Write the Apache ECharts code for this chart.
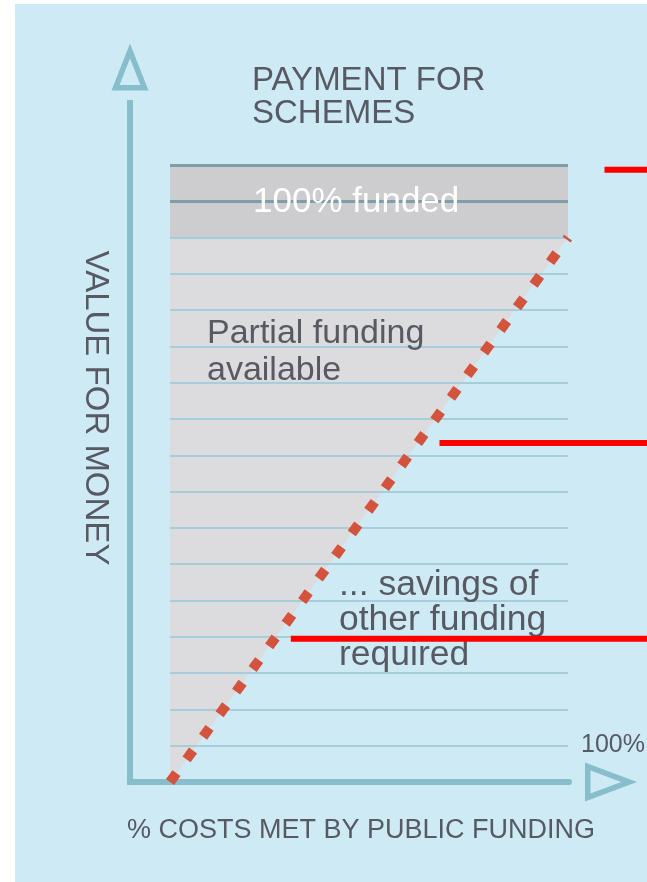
<!DOCTYPE html>
<html>
<head>
<meta charset="utf-8">
<script src="https://cdn.jsdelivr.net/npm/echarts@6/dist/echarts.min.js"></script>
<style>
  html, body { margin: 0; padding: 0; width: 647px; height: 882px; background: #fff; overflow: hidden; }
  #bg { position: absolute; left: 15px; top: 4px; width: 632px; height: 878px; background: #cdeaf5; }
  #chart { position: absolute; left: 0; top: 0; width: 647px; height: 882px; }
</style>
</head>
<body>
<div id="bg"></div>
<div id="chart"></div>
<script>
// x: % of costs met by public funding, y: value-for-money level
const costShare = [0, 100];
const fundingLine = [0, 15];
const fundedBand = [15, 17];
const fundedLines = [16, 17];

// red marker strokes at the right
const markY = [16.87, 9.34, 3.95];
const markFromX = [109.3, 67.8, 30.4];
const markToX = 120;

const titleText = 'PAYMENT FOR\nSCHEMES';
const yName = 'VALUE FOR MONEY';
const xName = '% COSTS MET BY PUBLIC FUNDING';
const notes = ['100% funded', 'Partial funding\navailable', '... savings of\nother funding\nrequired'];
const endLabel = '100%';

const FONT = '"Liberation Sans", Arial, sans-serif';
const TEXT = '#575a63';
const AXIS = '#88bdcc';

const chart = echarts.init(document.getElementById('chart'));

const diag = costShare.map((x, i) => [x, fundingLine[i]]);

// hollow arrow heads for the axis ends (pointing up before rotation)
const arrowY = 'path://M18.5,0L37,47L0,47Z M18.5,15L8.1,41.5L28.9,41.5Z';
const arrowX = 'path://M19.5,0L39,52L0,52Z M19.5,15.7L7.9,46.5L31.1,46.5Z';

const hidden = { show: false };

const option = {
  animation: false,
  title: {
    text: titleText,
    left: 252,
    top: 64,
    padding: 0,
    textStyle: { fontSize: 33, lineHeight: 33, fontWeight: 'normal', color: TEXT, fontFamily: FONT }
  },
  grid: [
    { left: 170, right: 79, top: 165, bottom: 100 },
    { left: 130, right: 78, top: 103, bottom: 100 },
    { left: 170, right: 0, top: 165, bottom: 100 }
  ],
  xAxis: [
    { gridIndex: 0, type: 'value', min: 0, max: 100,
      axisLine: hidden, axisTick: hidden, axisLabel: hidden, splitLine: hidden },
    { gridIndex: 1, type: 'value', min: 0, max: 1, z: 4,
      axisLine: { show: true, symbol: ['none', arrowX], symbolSize: [39, 52], symbolOffset: [0, 42],
        lineStyle: { color: AXIS, width: 6 } },
      axisTick: hidden, axisLabel: hidden, splitLine: hidden },
    { gridIndex: 2, type: 'value', min: 0, max: markToX,
      axisLine: hidden, axisTick: hidden, axisLabel: hidden, splitLine: hidden }
  ],
  yAxis: [
    { gridIndex: 0, type: 'value', min: 0, max: 17, interval: 1, z: 3,
      axisLine: hidden, axisTick: hidden, axisLabel: hidden,
      splitLine: { show: true, lineStyle: { color: '#a6cdd9', width: 2 } } },
    { gridIndex: 1, type: 'value', min: 0, max: 1, z: 4,
      axisLine: { show: true, symbol: ['none', arrowY], symbolSize: [37, 47], symbolOffset: [0, 36],
        lineStyle: { color: AXIS, width: 6, cap: 'square' } },
      axisTick: hidden, axisLabel: hidden, splitLine: hidden },
    { gridIndex: 2, type: 'value', min: 0, max: 17,
      axisLine: hidden, axisTick: hidden, axisLabel: hidden, splitLine: hidden }
  ],
  series: [
    {
      type: 'line',
      xAxisIndex: 0, yAxisIndex: 0,
      data: diag,
      symbol: 'none',
      silent: true,
      z: 1,
      lineStyle: { width: 0 },
      areaStyle: { color: '#dcdcde', opacity: 1, origin: 'end' },
      markArea: {
        silent: true,
        z: 2,
        itemStyle: { color: '#cdcdcf' },
        data: [[{ coord: [costShare[0], fundedBand[0]] }, { coord: [costShare[1], fundedBand[1]] }]]
      },
      markLine: {
        silent: true,
        symbol: 'none',
        label: { show: false },
        lineStyle: { color: '#7e9fa9', width: 3, type: 'solid' },
        data: fundedLines.map(v => [{ coord: [costShare[0], v] }, { coord: [costShare[1], v] }])
      }
    },
    {
      type: 'line',
      xAxisIndex: 0, yAxisIndex: 0,
      data: diag,
      symbol: 'none',
      silent: true,
      z: 6,
      lineStyle: { color: '#d3533c', width: 10, type: [11, 17], cap: 'butt' }
    }
  ].concat(markY.map((y, i) => ({
    type: 'line',
    xAxisIndex: 2, yAxisIndex: 2,
    data: [[markFromX[i], y], [markToX, y]],
    symbol: 'none',
    silent: true,
    z: 20,
    lineStyle: { color: '#ff0000', width: 6 }
  }))),
  graphic: [
    { type: 'text', x: 253, y: 202, z: 8,
      style: { text: notes[0], fill: '#ffffff', fontSize: 35, fontFamily: FONT, verticalAlign: 'middle' } },
    { type: 'text', x: 207, y: 352, z: 8,
      style: { text: notes[1], fill: TEXT, fontSize: 34, lineHeight: 37, fontFamily: FONT, verticalAlign: 'middle' } },
    { type: 'text', x: 339, y: 620, z: 8,
      style: { text: notes[2], fill: TEXT, fontSize: 35.5, lineHeight: 35, fontFamily: FONT, verticalAlign: 'middle' } },
    { type: 'text', x: 581, y: 745, z: 8,
      style: { text: endLabel, fill: TEXT, fontSize: 25, fontFamily: FONT, verticalAlign: 'middle' } },
    { type: 'text', x: 95, y: 408, z: 8, rotation: -Math.PI / 2,
      style: { text: yName, fill: TEXT, fontSize: 33, fontFamily: FONT, align: 'center', verticalAlign: 'middle' } },
    { type: 'text', x: 361, y: 831, z: 8,
      style: { text: xName, fill: TEXT, fontSize: 27, fontFamily: FONT, align: 'center', verticalAlign: 'middle' } }
  ]
};

chart.setOption(option);
</script>
</body>
</html>
